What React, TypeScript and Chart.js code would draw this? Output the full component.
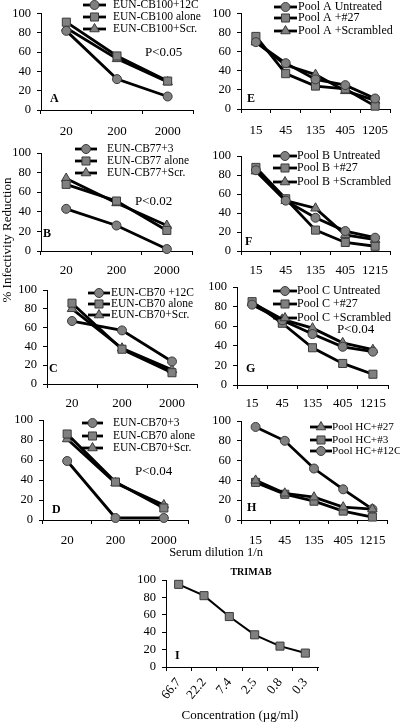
import React, { useEffect, useRef } from 'react';
import { Chart, registerables } from 'chart.js';

Chart.register(...registerables);

const FONT = "'Liberation Serif', 'Times New Roman', Times, serif";

// ---- categories (x tick labels) ----
const DIL_CB = ['20', '200', '2000'];
const DIL_POOL_A = ['15', '45', '135', '405', '1205'];
const DIL_POOL = ['15', '45', '135', '405', '1215'];
const CONC = ['66.7', '22.2', '7.4', '2.5', '0.8', '0.3'];

// ---- panel A ----
const A_NAMES = ['EUN-CB100+12C', 'EUN-CB100 alone', 'EUN-CB100+Scr.'];
const A_12C = [82, 32, 14];
const A_ALONE = [91, 56, 30];
const A_SCR = [85, 53, 29];

// ---- panel B ----
const B_NAMES = ['EUN-CB77+3', 'EUN-CB77 alone', 'EUN-CB77+Scr.'];
const B_3 = [43, 26, 2];
const B_ALONE = [68, 51, 21];
const B_SCR = [74, 49, 26];

// ---- panel C ----
const C_NAMES = ['EUN-CB70 +12C', 'EUN-CB70 alone', 'EUN-CB70+Scr.'];
const C_12C = [67, 57, 24];
const C_ALONE = [86, 37, 12];
const C_SCR = [80, 38, 15];

// ---- panel D ----
const D_NAMES = ['EUN-CB70+3', 'EUN-CB70 alone', 'EUN-CB70+Scr.'];
const D_3 = [59, 2, 2];
const D_ALONE = [86, 38, 12];
const D_SCR = [81, 37, 15];

// ---- panel E ----
const E_NAMES = ['Pool A Untreated', 'Pool A +#27', 'Pool A +Scrambled'];
const E_UNT = [70, 48, 31, 25, 11];
const E_27 = [76, 37, 24, 21, 3];
const E_SCR = [70, 46, 36, 19, 9];

// ---- panel F ----
const F_NAMES = ['Pool B Untreated', 'Pool B +#27', 'Pool B +Scrambled'];
const F_UNT = [85, 53, 35, 21, 14];
const F_27 = [88, 55, 22, 9, 5];
const F_SCR = [84, 53, 45, 17, 12];

// ---- panel G ----
const G_NAMES = ['Pool C Untreated', 'Pool C +#27', 'Pool C +Scrambled'];
const G_UNT = [82, 66, 52, 39, 34];
const G_27 = [85, 63, 38, 22, 11];
const G_SCR = [84, 67, 58, 43, 36];

// ---- panel H ----
const H_NAMES = ['Pool HC+#27', 'Pool HC+#3', 'Pool HC+#12C'];
const H_27 = [40, 27, 23, 13, 11];
const H_3 = [38, 26, 19, 9, 3];
const H_12C = [94, 80, 52, 31, 11];

// ---- panel I ----
const I_TRIMAB = [95, 82, 58, 37, 24, 16];

const R: Record<string, number> = { circle: 4.5, rect: 5.7, triangle: 5.5 };

type Series = { label: string; data: number[]; style: string };
type Panel = {
  key: string;
  col: number;
  labels: string[];
  series: Series[];
  area: { l: number; t: number; r: number; b: number };
  xPad: number;
  rot: number;
  lw: number;
  legend?: { x1: number; x2: number; tx: number; rows: number[]; size: number };
  p?: { text: string; x: number; y: number };
  letter: { x: number; y: number };
};

const PANELS: Panel[] = [
  {
    key: 'A', col: 0, labels: DIL_CB,
    series: [
      { label: A_NAMES[0], data: A_12C, style: 'circle' },
      { label: A_NAMES[1], data: A_ALONE, style: 'rect' },
      { label: A_NAMES[2], data: A_SCR, style: 'triangle' },
    ],
    area: { l: 41, t: 9, r: 193, b: 110 }, xPad: 10, rot: 0, lw: 2.8,
    legend: { x1: 83, x2: 106, tx: 113, rows: [5, 17, 29], size: 11.5 },
    p: { text: 'P<0.05', x: 145, y: 53 }, letter: { x: 50, y: 99 },
  },
  {
    key: 'B', col: 0, labels: DIL_CB,
    series: [
      { label: B_NAMES[0], data: B_3, style: 'circle' },
      { label: B_NAMES[1], data: B_ALONE, style: 'rect' },
      { label: B_NAMES[2], data: B_SCR, style: 'triangle' },
    ],
    area: { l: 41, t: 153, r: 192, b: 251 }, xPad: 8, rot: 0, lw: 2.8,
    legend: { x1: 75, x2: 97, tx: 107, rows: [149, 161, 173], size: 11.5 },
    p: { text: 'P<0.02', x: 135, y: 202 }, letter: { x: 43, y: 234 },
  },
  {
    key: 'C', col: 0, labels: DIL_CB,
    series: [
      { label: C_NAMES[0], data: C_12C, style: 'circle' },
      { label: C_NAMES[1], data: C_ALONE, style: 'rect' },
      { label: C_NAMES[2], data: C_SCR, style: 'triangle' },
    ],
    area: { l: 47, t: 290, r: 197, b: 384 }, xPad: 8, rot: 0, lw: 2.8,
    legend: { x1: 88, x2: 110, tx: 111, rows: [293, 304, 315], size: 11.5 },
    letter: { x: 49, y: 369 },
  },
  {
    key: 'D', col: 0, labels: DIL_CB,
    series: [
      { label: D_NAMES[0], data: D_3, style: 'circle' },
      { label: D_NAMES[1], data: D_ALONE, style: 'rect' },
      { label: D_NAMES[2], data: D_SCR, style: 'triangle' },
    ],
    area: { l: 43, t: 420, r: 188, b: 520 }, xPad: 9, rot: 0, lw: 2.8,
    legend: { x1: 82, x2: 103, tx: 113, rows: [423, 436, 448], size: 11.5 },
    p: { text: 'P<0.04', x: 135, y: 472 }, letter: { x: 52, y: 510 },
  },
  {
    key: 'E', col: 1, labels: DIL_POOL_A,
    series: [
      { label: E_NAMES[0], data: E_UNT, style: 'circle' },
      { label: E_NAMES[1], data: E_27, style: 'rect' },
      { label: E_NAMES[2], data: E_SCR, style: 'triangle' },
    ],
    area: { l: 241, t: 9, r: 390, b: 109 }, xPad: 10, rot: 0, lw: 2.8,
    legend: { x1: 274, x2: 297, tx: 298, rows: [7, 18, 31], size: 12 },
    letter: { x: 247, y: 99 },
  },
  {
    key: 'F', col: 1, labels: DIL_POOL,
    series: [
      { label: F_NAMES[0], data: F_UNT, style: 'circle' },
      { label: F_NAMES[1], data: F_27, style: 'rect' },
      { label: F_NAMES[2], data: F_SCR, style: 'triangle' },
    ],
    area: { l: 241, t: 156, r: 390, b: 251 }, xPad: 8, rot: 0, lw: 2.8,
    legend: { x1: 273, x2: 297, tx: 297, rows: [156, 168, 182], size: 12 },
    letter: { x: 245, y: 242 },
  },
  {
    key: 'G', col: 1, labels: DIL_POOL,
    series: [
      { label: G_NAMES[0], data: G_UNT, style: 'circle' },
      { label: G_NAMES[1], data: G_27, style: 'rect' },
      { label: G_NAMES[2], data: G_SCR, style: 'triangle' },
    ],
    area: { l: 237, t: 287, r: 388, b: 385 }, xPad: 7, rot: 0, lw: 2.8,
    legend: { x1: 273, x2: 297, tx: 297, rows: [291, 304, 318], size: 12 },
    p: { text: 'P<0.04', x: 337, y: 330 }, letter: { x: 246, y: 369 },
  },
  {
    key: 'H', col: 1, labels: DIL_POOL,
    series: [
      { label: H_NAMES[0], data: H_27, style: 'triangle' },
      { label: H_NAMES[1], data: H_3, style: 'rect' },
      { label: H_NAMES[2], data: H_12C, style: 'circle' },
    ],
    area: { l: 241, t: 421, r: 387, b: 520 }, xPad: 9, rot: 0, lw: 2.8,
    legend: { x1: 310, x2: 332, tx: 332, rows: [427, 440, 451], size: 11.2 },
    letter: { x: 247, y: 508 },
  },
  {
    key: 'I', col: 1, labels: CONC,
    series: [{ label: 'TRIMAB', data: I_TRIMAB, style: 'rect' }],
    area: { l: 166, t: 580, r: 318, b: 667 }, xPad: 4, rot: 50, lw: 2,
    letter: { x: 175, y: 656 },
  },
];

function boxFor(p: Panel) {
  const left = p.area.l - 40;
  const top = Math.max(0, p.area.t - 14);
  const right = p.col === 0 ? 206 : 400;
  const bottom = p.key === 'I' ? 712 : p.area.b + 32;
  return { left, top, right, bottom, width: right - left, height: bottom - top };
}

function drawMarker(ctx: CanvasRenderingContext2D, style: string, x: number, y: number, r: number) {
  ctx.beginPath();
  if (style === 'circle') {
    ctx.arc(x, y, r, 0, Math.PI * 2);
  } else if (style === 'rect') {
    const s = r * Math.SQRT1_2;
    ctx.rect(x - s, y - s, 2 * s, 2 * s);
  } else {
    let rad = 0;
    const step = (Math.PI * 2) / 3;
    ctx.moveTo(x + Math.sin(rad) * r, y - Math.cos(rad) * r);
    rad += step;
    ctx.lineTo(x + Math.sin(rad) * r, y - Math.cos(rad) * r);
    rad += step;
    ctx.lineTo(x + Math.sin(rad) * r, y - Math.cos(rad) * r);
  }
  ctx.closePath();
  ctx.fillStyle = '#808080';
  ctx.strokeStyle = '#3a3a3a';
  ctx.lineWidth = 1;
  ctx.fill();
  ctx.stroke();
}

function annotPlugin(p: Panel, box: ReturnType<typeof boxFor>) {
  return {
    id: 'annot_' + p.key,
    afterDraw(chart: any) {
      const ctx: CanvasRenderingContext2D = chart.ctx;
      ctx.save();
      const L = p.legend;
      if (L) {
        p.series.forEach((s, i) => {
          const y = L.rows[i] - box.top;
          const x1 = L.x1 - box.left;
          const x2 = L.x2 - box.left;
          ctx.strokeStyle = '#000';
          ctx.lineWidth = p.lw;
          ctx.beginPath();
          ctx.moveTo(x1, y);
          ctx.lineTo(x2, y);
          ctx.stroke();
          drawMarker(ctx, s.style, (x1 + x2) / 2, y, R[s.style]);
          ctx.fillStyle = '#000';
          ctx.font = `${L.size}px ${FONT}`;
          ctx.textBaseline = 'middle';
          ctx.textAlign = 'left';
          ctx.fillText(s.label, L.tx - box.left, y);
        });
      }
      ctx.fillStyle = '#000';
      ctx.textBaseline = 'middle';
      ctx.textAlign = 'left';
      if (p.p) {
        ctx.font = `13px ${FONT}`;
        ctx.fillText(p.p.text, p.p.x - box.left, p.p.y - box.top);
      }
      ctx.font = `bold 12px ${FONT}`;
      ctx.fillText(p.key, p.letter.x - box.left, p.letter.y - box.top);
      ctx.restore();
    },
  };
}

function PanelChart({ p }: { p: Panel }) {
  const ref = useRef<HTMLCanvasElement>(null);
  const box = boxFor(p);
  useEffect(() => {
    if (!ref.current) return;
    const chart = new Chart(ref.current, {
      type: 'line',
      data: {
        labels: p.labels,
        datasets: p.series.map((s) => ({
          label: s.label,
          data: s.data,
          borderColor: '#000',
          borderWidth: p.lw,
          pointStyle: s.style as any,
          pointRadius: R[s.style],
          pointBackgroundColor: '#808080',
          pointBorderColor: '#3a3a3a',
          pointBorderWidth: 1,
          tension: 0,
          fill: false,
          clip: false as any,
        })),
      },
      options: {
        responsive: false,
        maintainAspectRatio: false,
        animation: false,
        events: [],
        layout: {
          padding: { left: 0, top: p.area.t - box.top, right: box.right - p.area.r, bottom: 0 },
        },
        plugins: { legend: { display: false }, tooltip: { enabled: false }, title: { display: false } },
        scales: {
          x: {
            type: 'category',
            offset: true,
            grid: { offset: true, drawOnChartArea: false, drawTicks: true, tickLength: 4, color: '#000', lineWidth: 1 },
            border: { color: '#000', width: 1 },
            ticks: {
              color: '#000',
              font: { family: FONT, size: 13 },
              autoSkip: false,
              minRotation: p.rot,
              maxRotation: p.rot,
              padding: p.xPad,
            },
            afterFit: (s: any) => {
              s.height = box.bottom - p.area.b;
            },
          },
          y: {
            min: 0,
            max: 100,
            grid: { drawOnChartArea: false, drawTicks: true, tickLength: 4, color: '#000', lineWidth: 1 },
            border: { color: '#000', width: 1 },
            ticks: { stepSize: 20, autoSkip: false, color: '#000', font: { family: FONT, size: 12.5 }, padding: 6 },
            afterFit: (s: any) => {
              s.width = p.area.l - box.left;
            },
          },
        },
      },
      plugins: [annotPlugin(p, box)],
    });
    return () => chart.destroy();
  }, []);
  return (
    <canvas
      ref={ref}
      width={box.width}
      height={box.height}
      style={{ position: 'absolute', left: box.left, top: box.top, width: box.width, height: box.height }}
    />
  );
}

const textBase: React.CSSProperties = {
  position: 'absolute',
  fontFamily: FONT,
  color: '#000',
  whiteSpace: 'nowrap',
  lineHeight: '14px',
};

export default function App() {
  return (
    <div style={{ position: 'absolute', left: 0, top: 0, width: 400, height: 722, background: '#fff', overflow: 'hidden' }}>
      {PANELS.map((p) => (
        <PanelChart key={p.key} p={p} />
      ))}
      <div style={{ ...textBase, left: -60, top: 233, width: 134, textAlign: 'center', fontSize: 13, transform: 'rotate(-90deg)' }}>
        % Infectivity Reduction
      </div>
      <div style={{ ...textBase, left: 166, top: 545, width: 100, textAlign: 'center', fontSize: 12.5 }}>
        Serum dilution 1/n
      </div>
      <div style={{ ...textBase, left: 221, top: 565, width: 60, textAlign: 'center', fontSize: 10, fontWeight: 'bold' }}>
        TRIMAB
      </div>
      <div style={{ ...textBase, left: 180, top: 708, width: 120, textAlign: 'center', fontSize: 13 }}>
        Concentration (µg/ml)
      </div>
    </div>
  );
}
